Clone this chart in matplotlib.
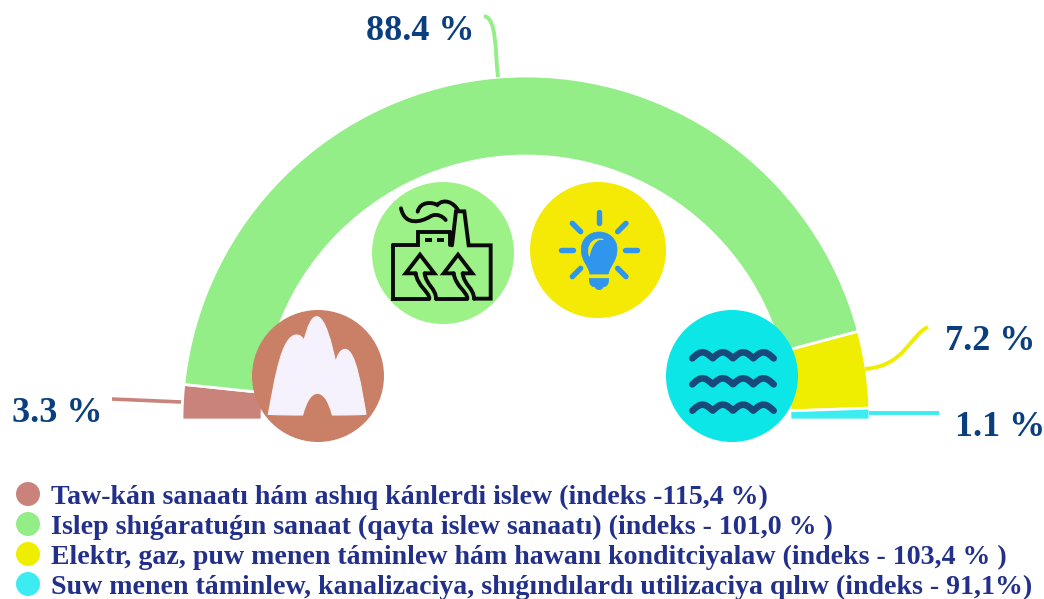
import numpy as np
import matplotlib
matplotlib.use('Agg')
import matplotlib.pyplot as plt
from matplotlib.patches import Circle, PathPatch
from matplotlib.path import Path

plt.rcParams['font.family'] = ['Liberation Serif', 'DejaVu Serif']

W, H = 1044, 599

value_labels = ['3.3 %', '88.4 %', '7.2 %', '1.1 %']
shares = [3.3, 88.4, 7.2, 1.1]
colors = ['#c9837b', '#93ee87', '#f0ee00', '#3decf0']
legend_labels = [
    'Taw-kán sanaatı hám ashıq kánlerdi islew (indeks -115,4 %)',
    'Islep shıǵaratuǵın sanaat (qayta islew sanaatı) (indeks - 101,0 % )',
    'Elektr, gaz, puw menen táminlew hám hawanı konditciyalaw (indeks - 103,4 % )',
    'Suw menen táminlew, kanalizaciya, shıǵındılardı utilizaciya qılıw (indeks - 91,1%)',
]

fig = plt.figure(figsize=(W / 100, H / 100), dpi=100)
ax = fig.add_axes([0, 0, 1, 1])


def yy(y):
    # picture rows to axis units
    return H - y


def zoomed(points, ox, oy):
    # icon outlines were read at 3x
    return [(ox + x / 3, yy(oy + y / 3)) for x, y in points]


def draw_line(points, ox, oy, color, lw, join='miter', cap='round'):
    pts = np.array(zoomed(points, ox, oy))
    ax.plot(pts[:, 0], pts[:, 1], color=color, lw=lw, solid_capstyle=cap,
            solid_joinstyle=join, zorder=6)


def draw_curve(points, ox, oy, color, lw, fill=None):
    # points: start, then groups of three bezier points
    pts = zoomed(points, ox, oy)
    codes = [Path.MOVETO] + [Path.CURVE4] * (len(pts) - 1)
    ax.add_patch(PathPatch(Path(pts, codes), facecolor=fill or 'none',
                           edgecolor=color, lw=lw, capstyle='round', zorder=6))


def leader(points, color, lw):
    pts = [(x, yy(y)) for x, y in points]
    codes = [Path.MOVETO] + [Path.CURVE4] * (len(pts) - 1)
    ax.add_patch(PathPatch(Path(pts, codes), fc='none', ec=color, lw=lw, zorder=1))


# half ring, the hidden wedge takes the lower half
wedges, _ = ax.pie(shares + [sum(shares)], colors=colors + ['none'],
                   center=(526, yy(420)), radius=344, startangle=180,
                   counterclock=False, frame=True,
                   wedgeprops=dict(width=80, edgecolor='white', linewidth=2))
wedges[-1].set_visible(False)
ax.set_xlim(0, W)
ax.set_ylim(0, H)
ax.set_aspect('equal')
ax.axis('off')

# leader lines
ax.plot([112, 181], [yy(399), yy(402)], color=colors[0], lw=2.6, zorder=1,
        solid_capstyle='butt')
ax.plot([869, 939], [yy(413), yy(413)], color=colors[3], lw=2.8, zorder=3,
        solid_capstyle='butt')
leader([(498, 77), (495, 52), (497, 18), (484, 16)], colors[1], 2.8)
leader([(865, 369), (905, 366), (910, 335), (928, 327)], colors[2], 2.8)

# value labels, y is the baseline
label_pos = [(12, 422), (366, 40), (945, 350), (955, 436)]
for text, (x, y) in zip(value_labels, label_pos):
    ax.text(x, yy(y), text, fontsize=26, fontweight='bold', color='#0a3f7f',
            ha='left', va='baseline', zorder=7)

# icon discs
ax.add_patch(Circle((318, yy(376)), 66, fc='#ca8066', ec='none', zorder=4))
ax.add_patch(Circle((443, yy(253)), 71, fc='#9cf287', ec='none', zorder=4))
ax.add_patch(Circle((598, yy(250)), 68, fc='#f5e906', ec='none', zorder=4))
ax.add_patch(Circle((732, yy(376)), 66, fc='#0de6e6', ec='none', zorder=4))

# mountain
mx, my = 100, 300
mountain = [(505, 343),
            (525, 235), (545, 105), (590, 105),
            (600, 105), (608, 112), (612, 122),
            (622, 80), (635, 50), (650, 50),
            (675, 50), (695, 130), (707, 187),
            (712, 165), (722, 148), (735, 148),
            (768, 148), (785, 270), (798, 343),
            (760, 345), (730, 345), (697, 345),
            (685, 300), (670, 280), (652, 280),
            (635, 280), (620, 300), (608, 345),
            (570, 345), (540, 345), (505, 343)]
draw_curve(mountain, mx, my, '#f5f2fd', 0.8, fill='#f5f2fd')

# factory
fx, fy = 350, 170
black = '#0a0a0a'
lw_f = 2.8
draw_line([(130, 226), (130, 386), (238, 386)], fx, fy, black, lw_f)
draw_line([(258, 386), (352, 386)], fx, fy, black, lw_f)
draw_line([(372, 386), (422, 386), (422, 226), (356, 226), (343, 124), (318, 124),
           (306, 226)], fx, fy, black, lw_f)
draw_line([(130, 226), (204, 226), (204, 186), (300, 186)], fx, fy, black, lw_f)
draw_line([(300, 186), (300, 226)], fx, fy, black, lw_f)
draw_line([(224, 209), (246, 209)], fx, fy, black, lw_f, cap='butt')
draw_line([(260, 209), (282, 209)], fx, fy, black, lw_f, cap='butt')
for dx in (0, 114):
    draw_line([(197 + dx, 310), (167 + dx, 310), (210 + dx, 254), (253 + dx, 310),
               (224 + dx, 310)], fx, fy, black, lw_f)
    draw_curve([(197 + dx, 310), (203 + dx, 350), (238 + dx, 365), (238 + dx, 386)],
               fx, fy, black, lw_f)
    draw_curve([(224 + dx, 310), (228 + dx, 345), (258 + dx, 355), (258 + dx, 386)],
               fx, fy, black, lw_f)
draw_curve([(153, 115), (165, 170), (215, 155), (240, 140),
            (255, 130), (275, 135), (287, 150)], fx, fy, black, lw_f)
draw_curve([(203, 125), (210, 95), (245, 95), (262, 105),
            (280, 85), (310, 95), (325, 122)], fx, fy, black, lw_f)

# bulb
bx, by = 350, 170
blue = '#2f96ee'
bulb = [(720, 312),
        (715, 285), (694, 275), (694, 238),
        (694, 205), (720, 186), (747, 186),
        (775, 186), (801, 205), (801, 238),
        (801, 275), (780, 285), (775, 312),
        (755, 312), (740, 312), (720, 312)]
draw_curve(bulb, bx, by, blue, 0.5, fill=blue)
draw_curve([(718, 325), (735, 325), (760, 325), (776, 325),
            (776, 345), (770, 350), (760, 350),
            (755, 362), (740, 362), (734, 350),
            (724, 350), (718, 345), (718, 325)], bx, by, blue, 0.5, fill=blue)
draw_curve([(718, 258), (708, 225), (730, 200), (760, 208),
            (740, 205), (725, 225), (718, 258)], bx, by, '#f5e906', 0.5, fill='#f5e906')
rays = [((747, 127), (747, 160)), ((667, 160), (692, 185)), ((828, 160), (803, 185)),
        ((633, 240), (668, 240)), ((826, 240), (861, 240)),
        ((692, 295), (667, 320)), ((803, 295), (828, 320))]
for a, b in rays:
    draw_line([a, b], bx, by, blue, 3.9)

# waves
wx, wy = 650, 300
for base in (174, 252, 331):
    t = np.linspace(0, 1, 200)
    xs = 127 + 244 * t
    ys = base + 1 - 18 * np.abs(np.sin(np.pi * 4 * t))
    draw_line(list(zip(xs, ys)), wx, wy, '#17497a', 4.8, join='round')

# legend
legend_y = [494, 524, 554, 584]
for text, color, y in zip(legend_labels, colors, legend_y):
    ax.add_patch(Circle((28, yy(y)), 12, fc=color, ec='none'))
    ax.text(51, yy(y + 10), text, fontsize=20.1, fontweight='bold', color='#22308a',
            ha='left', va='baseline')

fig.savefig('out.png', dpi=100)
